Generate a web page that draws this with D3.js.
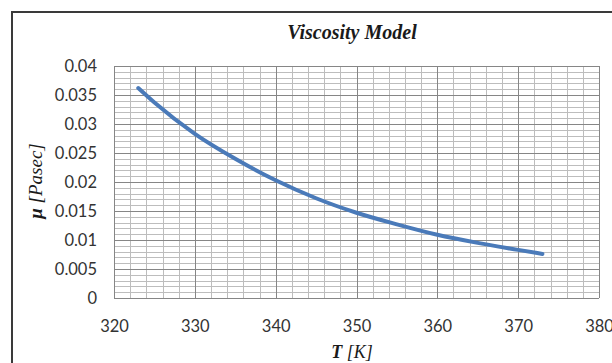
<!DOCTYPE html>
<html><head><meta charset="utf-8">
<script src="https://cdn.jsdelivr.net/npm/d3@7"></script>
<style>body{margin:0;background:#fff}svg{display:block}</style>
</head><body>
<svg id="c" width="612" height="363"></svg>
<script>
const temps = [323, 325, 330, 335, 340, 345, 350, 355, 360, 365, 370, 373];
const viscosity = [0.0362, 0.0337, 0.0283, 0.0240, 0.0203, 0.0172, 0.0147, 0.0127, 0.0109, 0.0095, 0.0083, 0.0076];
const xTicks = [320, 330, 340, 350, 360, 370, 380];
const yTicks = [0, 0.005, 0.01, 0.015, 0.02, 0.025, 0.03, 0.035, 0.04];
const title = "Viscosity Model";

const svg = d3.select("#c");
const L = 114, R = 599, T = 66, B = 298;
const x = d3.scaleLinear().domain([320, 380]).range([L, R]);
const y = d3.scaleLinear().domain([0, 0.04]).range([B, T]);

// outer frame
svg.append("rect").attr("x", 12).attr("y", 12).attr("width", 640).attr("height", 400)
  .attr("fill", "none").attr("stroke", "#3a3a3a").attr("stroke-width", 2);

const g = svg.append("g");
// minor grid
const xMinor = d3.range(320, 380.01, 2);
const yMinor = d3.range(0, 41).map(i => i * 0.001);
g.append("g").selectAll("line").data(xMinor).join("line")
  .attr("x1", d => Math.round(x(d)) + 0.5).attr("x2", d => Math.round(x(d)) + 0.5)
  .attr("y1", T).attr("y2", B).attr("stroke", "#bdbdbd").attr("stroke-width", 1);
g.append("g").selectAll("line").data(yMinor).join("line")
  .attr("y1", d => Math.round(y(d)) + 0.5).attr("y2", d => Math.round(y(d)) + 0.5)
  .attr("x1", L).attr("x2", R).attr("stroke", "#bdbdbd").attr("stroke-width", 1);
// major grid
g.append("g").selectAll("line").data(xTicks).join("line")
  .attr("x1", d => Math.round(x(d)) + 0.5).attr("x2", d => Math.round(x(d)) + 0.5)
  .attr("y1", T).attr("y2", B).attr("stroke", "#868686").attr("stroke-width", 1);
g.append("g").selectAll("line").data(yTicks).join("line")
  .attr("y1", d => Math.round(y(d)) + 0.5).attr("y2", d => Math.round(y(d)) + 0.5)
  .attr("x1", L).attr("x2", R).attr("stroke", "#868686").attr("stroke-width", 1);

// axes
const xAxis = d3.axisBottom(x).tickValues(xTicks).tickSize(0).tickPadding(22).tickFormat(d3.format("d"));
const yAxis = d3.axisLeft(y).tickValues(yTicks).tickSize(0).tickPadding(17).tickFormat(d => d === 0 ? "0" : String(+d.toFixed(3)));
const xa = svg.append("g").attr("transform", `translate(0,${B})`).call(xAxis);
const ya = svg.append("g").attr("transform", `translate(${L},0)`).call(yAxis);
[xa, ya].forEach(a => {
  a.select(".domain").remove();
  a.selectAll("text").attr("font-family", "Lato, 'Open Sans', sans-serif").attr("font-size", 16.5).attr("fill", "#333");
});

// curve
const line = d3.line().x((d, i) => x(temps[i])).y(d => y(d)).curve(d3.curveMonotoneX);
svg.append("path").datum(viscosity).attr("d", line).attr("fill", "none")
  .attr("stroke", "#4a7ab9").attr("stroke-width", 4).attr("stroke-linecap", "round");

// title
svg.append("text").attr("x", 352).attr("y", 39).attr("text-anchor", "middle")
  .attr("font-family", "'Liberation Serif', 'DejaVu Serif', serif").attr("font-weight", "bold")
  .attr("font-style", "italic").attr("font-size", 20).attr("fill", "#1a1a1a").text(title);

// x label
const xl = svg.append("text").attr("x", 352).attr("y", 358).attr("text-anchor", "middle")
  .attr("font-family", "'Liberation Serif', serif").attr("font-style", "italic").attr("font-size", 18).attr("fill", "#1a1a1a");
xl.append("tspan").attr("font-weight", "bold").text("T");
xl.append("tspan").text(" [K]");

// y label
const yl = svg.append("text").attr("transform", "translate(42,181) rotate(-90)").attr("text-anchor", "middle")
  .attr("font-family", "'Liberation Serif', serif").attr("font-style", "italic").attr("font-size", 19).attr("fill", "#1a1a1a");
yl.append("tspan").attr("font-weight", "bold").text("μ");
yl.append("tspan").text(" [Pasec]");
</script>
</body></html>
